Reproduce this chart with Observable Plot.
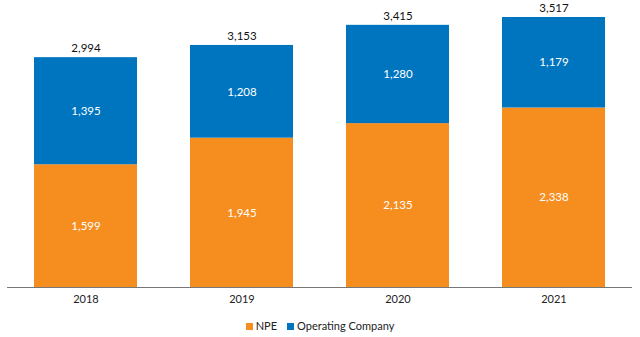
<!DOCTYPE html>
<html><head><meta charset="utf-8">
<script src="https://cdn.jsdelivr.net/npm/d3@7"></script>
<script src="https://cdn.jsdelivr.net/npm/@observablehq/plot@0.6"></script>
<style>
body{margin:0;background:#fff;font-family:Lato,"Open Sans",sans-serif;}
#legend{display:flex;justify-content:center;align-items:center;gap:10px;font-size:11px;color:#222;height:26px;margin-top:0;}
#legend span.sw{display:inline-block;width:7px;height:7px;margin-right:3px;}
</style></head>
<body><div id="chart"></div><div id="legend"></div>
<script>
const years = ["2018","2019","2020","2021"];
const series = ["NPE","Operating Company"];
const npe = [1599,1945,2135,2338];
const opco = [1395,1208,1280,1179];
const totals = [2994,3153,3415,3517];
const colors = ["#F68D1F","#0075BF"];

const data = [];
years.forEach((y,i)=>{
  data.push({year:y, series:series[0], value:npe[i]});
  data.push({year:y, series:series[1], value:opco[i]});
});
const tot = years.map((y,i)=>({year:y,total:totals[i]}));
const fmt = d3.format(",");

const plot = Plot.plot({
  width:640, height:312,
  marginTop:17, marginBottom:25, marginLeft:7, marginRight:8,
  style:{fontFamily:"Lato, 'Open Sans', sans-serif", fontSize:"11px", color:"#222"},
  x:{domain:years, paddingInner:0.34, paddingOuter:0.17, label:null, tickSize:0, tickPadding:8},
  y:{domain:[0,3517], axis:null},
  color:{domain:series, range:colors},
  marks:[
    Plot.barY(data, {x:"year", y:"value", fill:"series"}),
    Plot.text(data, Plot.stackY({x:"year", y:"value", z:"series", text:d=>fmt(d.value), fill:"white", fontSize:11.5})),
    Plot.text(tot, {x:"year", y:"total", text:d=>fmt(d.total), dy:-9, fill:"#111", fontSize:11.5}),
    Plot.ruleY([0], {stroke:"#777", strokeWidth:1})
  ]
});
document.getElementById("chart").appendChild(plot);
const lg = document.getElementById("legend");
series.forEach((s,i)=>{
  const d=document.createElement("div");
  d.innerHTML=`<span class="sw" style="background:${colors[i]}"></span>${s}`;
  lg.appendChild(d);
});
</script></body></html>
